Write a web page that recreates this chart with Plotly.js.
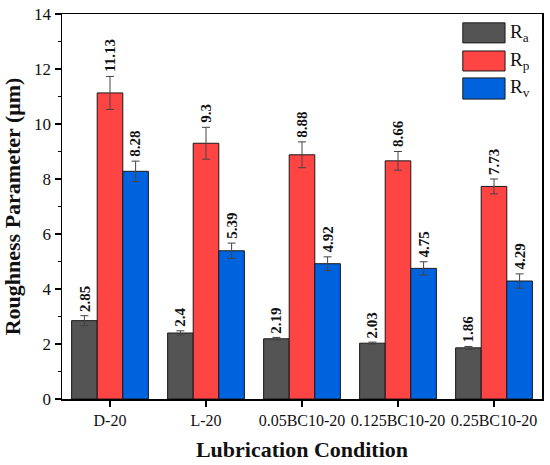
<!DOCTYPE html>
<html><head><meta charset="utf-8">
<script src="https://cdn.plot.ly/plotly-3.0.1.min.js"></script>
<style>body{margin:0;background:#fff}#c{width:550px;height:465px}</style>
</head><body><div id="c"></div>
<script>
const categories = ["D-20","L-20","0.05BC10-20","0.125BC10-20","0.25BC10-20"];
const ra = [2.85, 2.4, 2.19, 2.03, 1.86];
const rp = [11.13, 9.3, 8.88, 8.66, 7.73];
const rv = [8.28, 5.39, 4.92, 4.75, 4.29];
const raErr = [0.18, 0.08, 0.05, 0.04, 0.05];
const rpErr = [0.6, 0.58, 0.47, 0.34, 0.27];
const rvErr = [0.37, 0.28, 0.25, 0.24, 0.26];
const seriesNames = ["R<sub>a</sub>","R<sub>p</sub>","R<sub>v</sub>"];
const colors = ["#545454","#ff4444","#0063de"];

const vals = [ra, rp, rv];
const errs = [raErr, rpErr, rvErr];
const serif = "Liberation Serif, Times New Roman, serif";

const traces = vals.map((v, i) => ({
  type: "bar", x: categories, y: v, name: seriesNames[i],
  marker: {color: colors[i], line: {color: "#1a1a1a", width: 1}},
  error_y: {type: "data", array: errs[i], visible: true, color: "#444", thickness: 1, width: 4},
  showlegend: false, hoverinfo: "skip"
}));

const barW = 480 / categories.length * 0.8 / 3;
const annotations = [];
vals.forEach((v, i) => {
  v.forEach((val, j) => {
    annotations.push({
      x: categories[j], y: val + errs[i][j], xref: "x", yref: "y",
      text: String(val), textangle: -90, showarrow: false,
      xanchor: "center", yanchor: "bottom",
      xshift: (i - 1) * barW, yshift: 2,
      font: {family: serif, size: 15, color: "#111", weight: "bold"}
    });
  });
});

// legend drawn with shapes
const shapes = [];
const legY = [[0.977, 0.925], [0.904, 0.852], [0.834, 0.779]];
seriesNames.forEach((n, i) => {
  shapes.push({type: "rect", xref: "paper", yref: "paper",
    x0: 0.835, x1: 0.923, y0: legY[i][1], y1: legY[i][0],
    fillcolor: colors[i], line: {color: "#1a1a1a", width: 1}});
  annotations.push({xref: "paper", yref: "paper", x: 0.93, y: (legY[i][0] + legY[i][1]) / 2,
    xanchor: "left", yanchor: "middle", showarrow: false, text: n,
    font: {family: serif, size: 19, color: "#111"}});
});

const layout = {
  width: 550, height: 465,
  margin: {l: 62, r: 8, t: 14, b: 66},
  paper_bgcolor: "#fff", plot_bgcolor: "#fff",
  barmode: "group", bargap: 0.2, bargroupgap: 0,
  xaxis: {
    type: "category", range: [-0.5, 4.5], showgrid: false, zeroline: false,
    showline: true, linecolor: "#000", linewidth: 1.5, mirror: true,
    ticks: "outside", ticklen: 6, tickwidth: 1.5, tickcolor: "#000",
    tickfont: {family: serif, size: 16, color: "#111"},
    title: {text: "Lubrication Condition", font: {family: serif, size: 22, color: "#111", weight: "bold"}, standoff: 14}
  },
  yaxis: {
    range: [0, 14], dtick: 2, showgrid: false, zeroline: false,
    showline: true, linecolor: "#000", linewidth: 1.5, mirror: true,
    ticks: "outside", ticklen: 6, tickwidth: 1.5, tickcolor: "#000",
    minor: {dtick: 1, ticks: "outside", ticklen: 3, tickwidth: 1.2, tickcolor: "#000", showgrid: false},
    tickfont: {family: serif, size: 17, color: "#111"},
    title: {text: "Roughness Parameter (μm)", font: {family: serif, size: 22, color: "#111", weight: "bold"}, standoff: 8}
  },
  shapes: shapes, annotations: annotations, showlegend: false
};

Plotly.newPlot("c", traces, layout, {staticPlot: true});
</script></body></html>
